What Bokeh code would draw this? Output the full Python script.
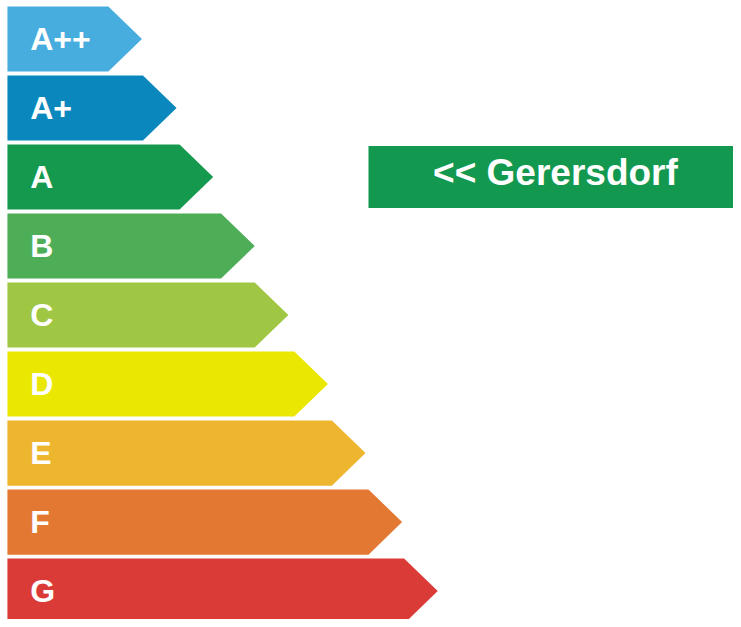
from bokeh.plotting import figure
from bokeh.models import Range1d, ColumnDataSource
from bokeh.core.properties import value
from bokeh.embed import file_html
from bokeh.resources import INLINE

# Data
classes = ["A++", "A+", "A", "B", "C", "D", "E", "F", "G"]
lengths = [136, 171, 208, 250, 284, 324, 362, 399, 435]
colors = ["#47ADDF", "#0A88BE", "#15994F", "#4DAE57", "#A0C743", "#EAE802",
          "#EEB52E", "#E27832", "#DB3B37"]
marker_class = "A"
marker_label = "<< Gerersdorf"
marker_color = "#13994F"

W, H = 733, 619
REF_W, REF_H = 741, 627
ROW = 69.9
top_off = 39 / ROW

p = figure(width=W, height=H, output_backend="svg", toolbar_location=None,
           x_range=Range1d(0, REF_W),
           y_range=Range1d(-top_off + REF_H / ROW, -top_off),
           min_border=0, outline_line_color=None, background_fill_color="white",
           border_fill_color="white")
p.axis.visible = False
p.xgrid.visible = False
p.ygrid.visible = False

x0 = 7
half = 33 / ROW
depth = 34
xs, ys = [], []
for i, L in enumerate(lengths):
    xs.append([x0, x0 + L - depth, x0 + L, x0 + L - depth, x0])
    ys.append([i - half, i - half, i, i + half, i + half])

src = ColumnDataSource(dict(xs=xs, ys=ys, color=colors))
p.patches("xs", "ys", source=src, fill_color="color", line_color=None)

lab = ColumnDataSource(dict(x=[x0 + 23] * len(classes), y=list(range(len(classes))), t=classes))
p.text("x", "y", text="t", source=lab, text_font=value("Liberation Sans"),
       text_font_style="bold", text_font_size="32px", text_color="white",
       text_baseline="middle", text_align="left")

mi = classes.index(marker_class)
p.quad(left=[372], right=[760], top=[mi - 31.5 / ROW], bottom=[mi + 31.5 / ROW],
       fill_color=marker_color, line_color=None)
p.text(x=[561], y=[mi - 5 / ROW], text=[marker_label], text_font=value("Liberation Sans"),
       text_font_style="bold", text_font_size="37px", text_color="white",
       text_baseline="middle", text_align="center")

open("out.html", "w").write(file_html(p, INLINE))
